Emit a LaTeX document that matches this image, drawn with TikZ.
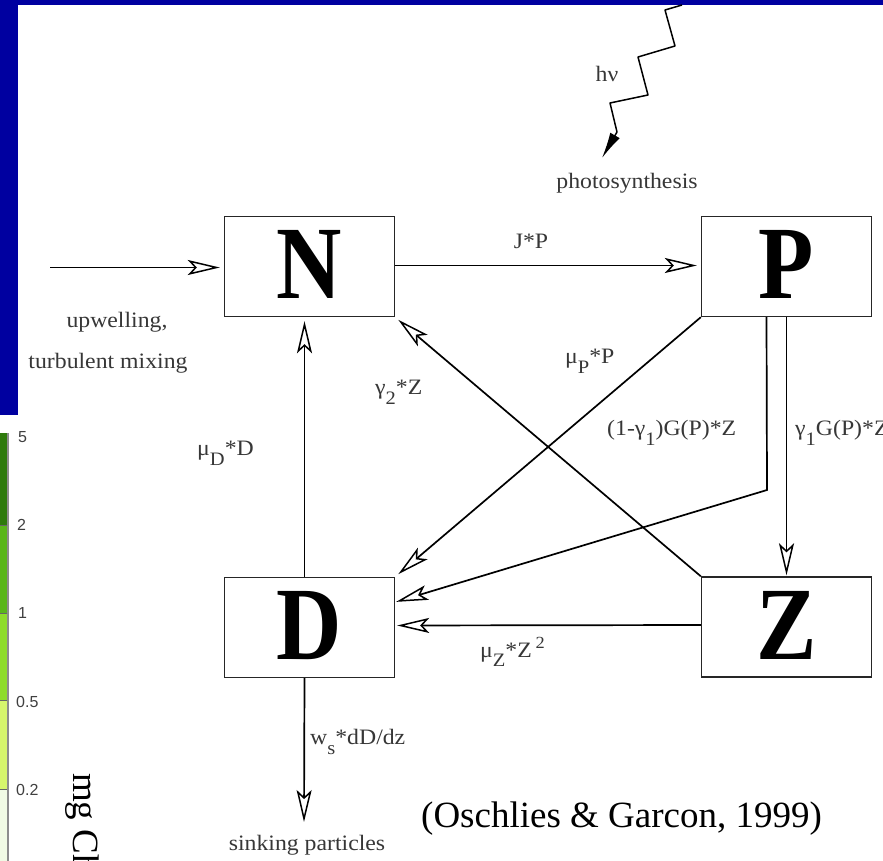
\documentclass[tikz,border=0pt]{standalone}
\usepackage{fontspec}
\setmainfont{Liberation Serif}
\newfontfamily\labfont[FakeStretch=1.08]{Liberation Serif}
\newfontfamily\bigfont[FakeStretch=0.87]{Liberation Serif}
\newfontfamily\barfont{Liberation Sans}
\usetikzlibrary{arrows.meta,calc}
\definecolor{frameblue}{RGB}{0,0,160}
\definecolor{labgray}{RGB}{55,55,55}
\definecolor{cbA}{RGB}{46,122,12}
\definecolor{cbB}{RGB}{90,182,26}
\definecolor{cbC}{RGB}{142,220,42}
\definecolor{cbD}{RGB}{214,245,108}
\definecolor{cbE}{RGB}{240,250,228}
\newcommand\dn[1]{\raisebox{-0.45em}{\fontsize{19}{19}\selectfont #1}}
\tikzset{
  box/.style={draw=black!85, line width=1.4pt, minimum width=170pt, minimum height=100pt,
    inner sep=0pt, font=\fontsize{104}{104}\bigfont\bfseries},
  flow/.style={line width=1.7pt, shorten >=4pt,
    -{Stealth[open, length=32pt, width=15pt, inset=7pt, line width=1.5pt]}},
  lab/.style={inner sep=0pt, text=labgray, font=\fontsize{22}{22}\labfont},
  cblab/.style={inner sep=0pt, anchor=west, text=black!75, font=\fontsize{16}{16}\barfont},
}
\begin{document}
\begin{tikzpicture}[x=1pt,y=-1pt]
\useasboundingbox (0,0) rectangle (883,861);
\clip (0,0) rectangle (883,861);
\fill[white] (0,0) rectangle (883,861);
% blue frame
\fill[frameblue] (0,0) rectangle (883,5);
\fill[frameblue] (0,0) rectangle (18,415);
% colour bar
\fill[cbA] (0,433) rectangle (7.5,525);
\fill[cbB] (0,525) rectangle (7.5,613);
\fill[cbC] (0,613) rectangle (7.5,700);
\fill[cbD] (0,700) rectangle (7.5,789);
\fill[cbE] (0,789) rectangle (7.5,861);
\foreach \yy in {525,613,700,789} \draw[black!60, line width=0.8pt] (0,\yy) -- (7.5,\yy);
\draw[black!45, line width=1.2pt] (8,433) -- (8,861);
\node[cblab] (c5) at (18,437) {5};
\node[cblab] (c2) at (17,525) {2};
\node[cblab] (c1) at (18,613) {1};
\node[cblab] (c05) at (16,702) {0.5};
\node[cblab] (c02) at (16,790) {0.2};
\node[rotate=-90, anchor=base west, inner sep=0pt, font=\fontsize{37}{37}\selectfont] (unit) at (73,773) {mg Ch};
% boxes
\node[box] (N) at (309.5,266.5) {\raisebox{4pt}{N}};
\node[box] (P) at (786.5,266.5) {\raisebox{4pt}{P}};
\node[box] (D) at (309.5,627.5) {\raisebox{4pt}{D}};
\node[box] (Z) at (786.5,627) {\raisebox{4pt}{Z}};
% free ends
\coordinate (upsrc) at (50,267.5);
\coordinate (bend1) at (767,490);
\coordinate (sink) at (304,822);
% connectors
\draw[flow] (upsrc) -- (N.west |- upsrc);
\draw[flow] ([yshift=1pt]N.east) -- ([yshift=1pt]P.west);
\draw[flow] ([xshift=-5pt]D.north) -- ([xshift=-5pt]N.south);
\draw[flow] (Z.north west) -- (N.south east);
\draw[flow] (P.south west) -- (D.north east);
\draw[flow, shorten >=1pt] ([xshift=-20pt]P.south) -- (bend1) -- ($(D.north east)!0.25!(D.south east)$);
\draw[flow, shorten >=1pt] (P.south) -- (Z.north);
\draw[flow, shorten >=2pt] ([yshift=2pt]Z.west) -- ([yshift=2pt]D.east);
\draw[flow, shorten >=0pt] ([xshift=-5pt]D.south) -- (sink);
% light
\coordinate (h0) at (682,5);
\coordinate (h1) at (665,10);
\coordinate (h2) at (675,46);
\coordinate (h3) at (638,57);
\coordinate (h4) at (648,95);
\coordinate (h5) at (610,103);
\coordinate (h6) at (617,132);
\coordinate (h7) at (602,158);
\draw[line width=1.5pt, line join=round, -{Latex[length=26pt, width=11pt]}]
  (h0) -- (h1) -- (h2) -- (h3) -- (h4) -- (h5) -- (h6) -- (h7);
% labels
\node[lab] (lhv) at (607,74) {hν};
\node[lab] (lphoto) at (627,183) {photosynthesis};
\node[lab] (lup1) at (117,322) {upwelling,};
\node[lab] (lup2) at (108,363) {turbulent mixing};
\node[lab] (lJP) at (531,241) {J*P};
\node[lab, anchor=west] (lg2) at (375,392) {γ\dn{2}*Z};
\node[lab, anchor=west] (lmP) at (565,361) {μ\dn{P}*P};
\node[lab, anchor=west] (lmD) at (197,453) {μ\dn{D}*D};
\node[lab, anchor=west] (lg1a) at (607,433) {(1-γ\dn{1})G(P)*Z};
\node[lab, anchor=west] (lg1b) at (795,433) {γ\dn{1}G(P)*Z};
\node[lab, anchor=west] (lmZ) at (480,652) {μ\dn{Z}*Z\,\raisebox{0.4em}{\fontsize{17}{17}\selectfont 2}};
\node[lab, anchor=west] (lws) at (310,742) {w\dn{s}*dD/dz};
\node[lab] (lsink) at (307,845) {sinking particles};
\node[anchor=base west, inner sep=0pt, font=\fontsize{37}{37}\selectfont] (cite) at (421,827) {(Oschlies \& Garcon, 1999)};
\end{tikzpicture}
\end{document}
